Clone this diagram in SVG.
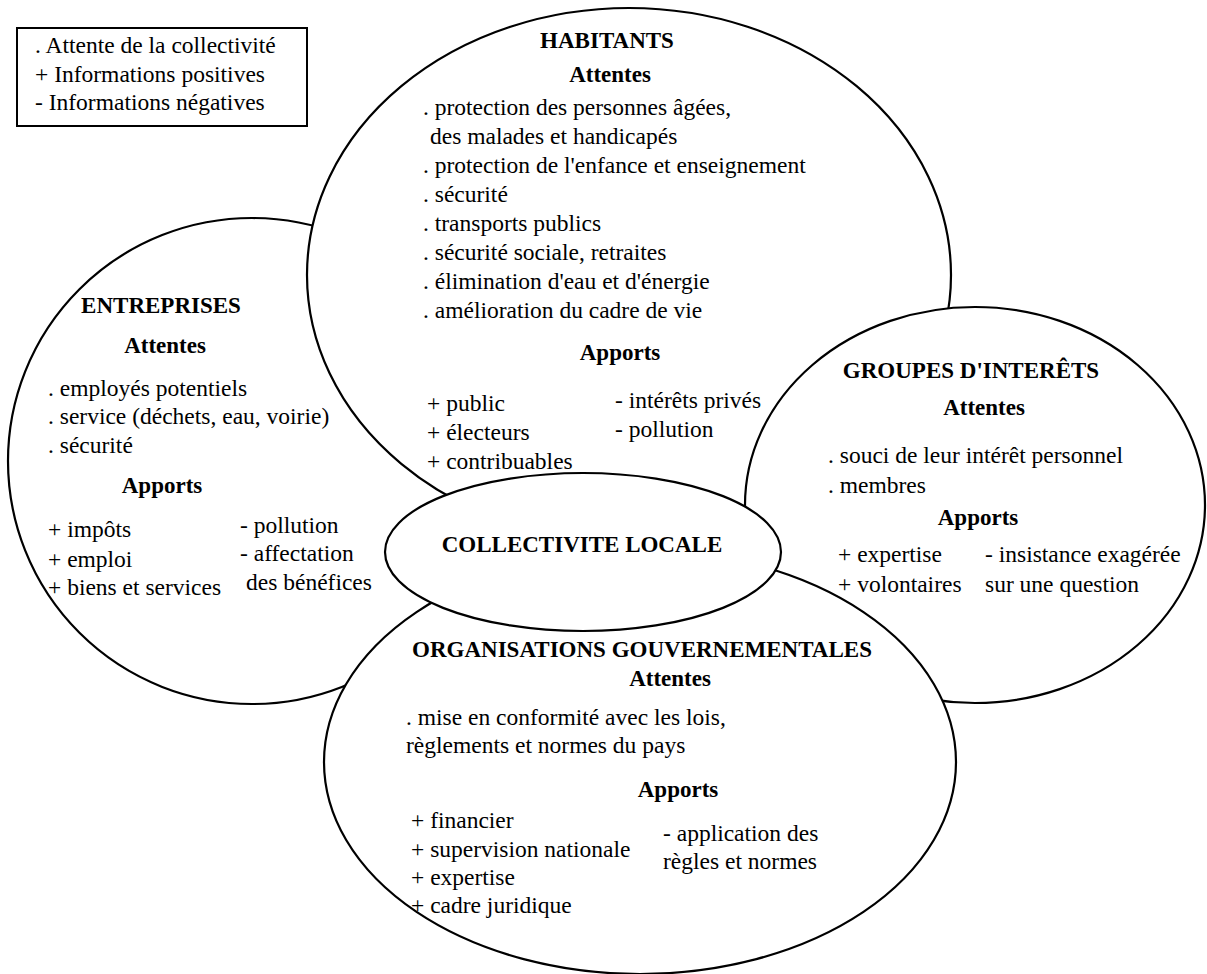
<svg xmlns="http://www.w3.org/2000/svg" width="1207" height="974" viewBox="0 0 1207 974" font-family="'Liberation Serif', serif">
<style>
.shape{fill:#fff;stroke:#000;stroke-width:2.2}
text{font-family:'Liberation Serif',Tinos,'Times New Roman',serif;font-size:23.5px;font-weight:500;fill:#000}
.b{font-weight:700;font-size:23px;text-anchor:middle}
</style>
<rect width="1207" height="974" fill="#fff"/>
<g id="legend">
<rect x="17" y="28" width="290" height="98" fill="#fff" stroke="#000" stroke-width="2"/>
<text x="35" y="53">. Attente de la collectivité</text>
<text x="35" y="82">+ Informations positives</text>
<text x="35" y="110">- Informations négatives</text>
</g>
<g id="connectors"></g>
<g id="entreprises">
<ellipse class="shape" cx="252" cy="461" rx="244" ry="243"/>
<text class="b" x="161" y="313">ENTREPRISES</text>
<text class="b" x="165" y="353">Attentes</text>
<text x="48" y="396">. employés potentiels</text>
<text x="48" y="424">. service (déchets, eau, voirie)</text>
<text x="48" y="453">. sécurité</text>
<text class="b" x="162" y="493">Apports</text>
<text x="48" y="537">+ impôts</text>
<text x="48" y="567">+ emploi</text>
<text x="48" y="595">+ biens et services</text>
<text x="240" y="533">- pollution</text>
<text x="240" y="561">- affectation</text>
<text x="246" y="590">des bénéfices</text>
</g>
<g id="habitants">
<ellipse class="shape" cx="629" cy="275" rx="322" ry="267"/>
<text class="b" x="607" y="48">HABITANTS</text>
<text class="b" x="610" y="82">Attentes</text>
<text x="423" y="115">. protection des personnes âgées,</text>
<text x="430" y="144">des malades et handicapés</text>
<text x="423" y="173">. protection de l'enfance et enseignement</text>
<text x="423" y="202">. sécurité</text>
<text x="423" y="231">. transports publics</text>
<text x="423" y="260">. sécurité sociale, retraites</text>
<text x="423" y="289">. élimination d'eau et d'énergie</text>
<text x="423" y="318">. amélioration du cadre de vie</text>
<text class="b" x="620" y="360">Apports</text>
<text x="427" y="411">+ public</text>
<text x="427" y="440">+ électeurs</text>
<text x="427" y="469">+ contribuables</text>
<text x="615" y="408">- intérêts privés</text>
<text x="615" y="437">- pollution</text>
</g>
<g id="groupes">
<ellipse class="shape" cx="975" cy="505" rx="230" ry="198"/>
<text class="b" x="971" y="378">GROUPES D'INTERÊTS</text>
<text class="b" x="984" y="415">Attentes</text>
<text x="828" y="463">. souci de leur intérêt personnel</text>
<text x="828" y="493">. membres</text>
<text class="b" x="978" y="525">Apports</text>
<text x="838" y="562">+ expertise</text>
<text x="838" y="592">+ volontaires</text>
<text x="985" y="562">- insistance exagérée</text>
<text x="985" y="592">sur une question</text>
</g>
<g id="organisations">
<ellipse class="shape" cx="640" cy="762" rx="316" ry="212"/>
<text class="b" x="642" y="657">ORGANISATIONS GOUVERNEMENTALES</text>
<text class="b" x="670" y="686">Attentes</text>
<text x="406" y="725">. mise en conformité avec les lois,</text>
<text x="406" y="753">règlements et normes du pays</text>
<text class="b" x="678" y="797">Apports</text>
<text x="411" y="828">+ financier</text>
<text x="411" y="857">+ supervision nationale</text>
<text x="411" y="885">+ expertise</text>
<text x="411" y="913">+ cadre juridique</text>
<text x="663" y="841">- application des</text>
<text x="663" y="869">règles et normes</text>
</g>
<g id="collectivite">
<ellipse class="shape" cx="583" cy="552" rx="198" ry="79"/>
<text class="b" x="582" y="552">COLLECTIVITE LOCALE</text>
</g>
</svg>
